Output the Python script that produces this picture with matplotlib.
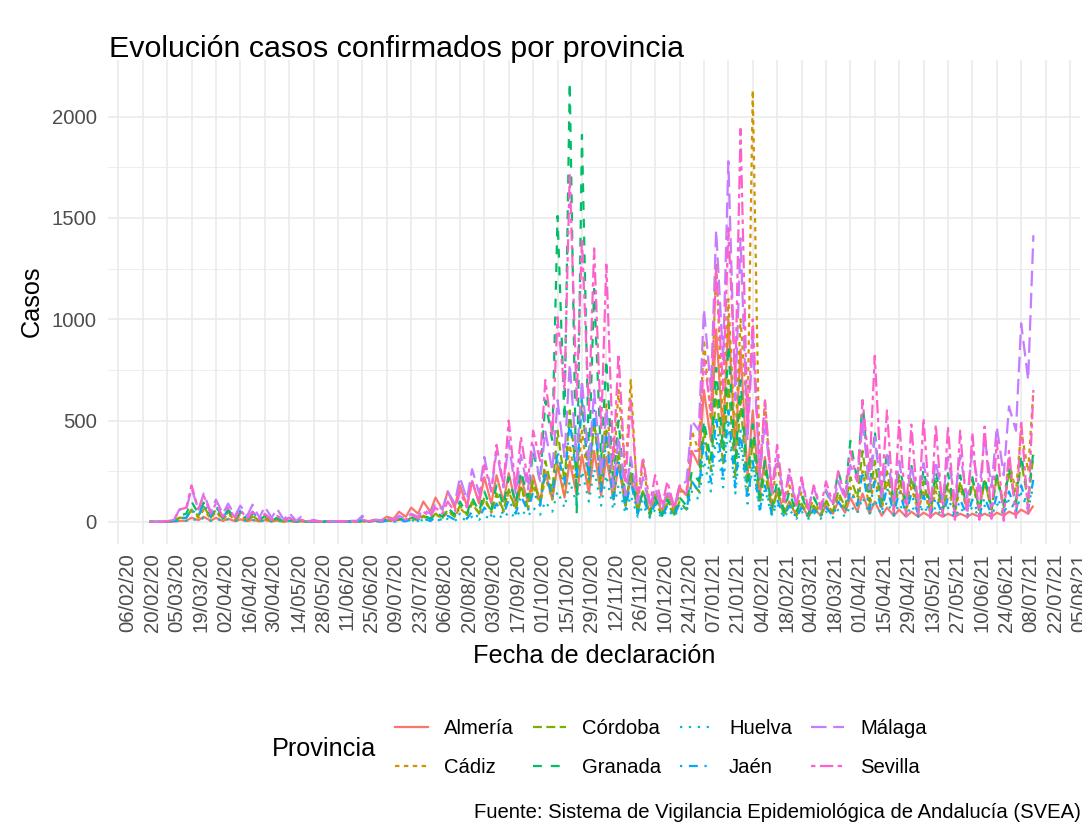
import numpy as np
import pandas as pd
import matplotlib
matplotlib.use("Agg")
import matplotlib.pyplot as plt
import matplotlib.dates as mdates
from matplotlib.lines import Line2D
from matplotlib.ticker import FixedLocator

plt.rcParams['font.family'] = ['Liberation Sans', 'DejaVu Sans']

# ---------------- data ----------------
provinces = ["Almería", "Cádiz", "Córdoba", "Granada", "Huelva", "Jaén", "Málaga", "Sevilla"]
colors = ["#F8766D", "#CD9600", "#7CAE00", "#00BE67", "#00BFC4", "#00A9FF", "#C77CFF", "#FF61CC"]

# two readings per week: Monday (weekly low) and Thursday (weekly high)
week_starts = pd.date_range("2020-02-24", "2021-07-12", freq="7D")

almeria = [0,0, 0,0, 1,5, 5,20, 8,25, 5,20,
           4,15, 3,12, 3,10, 2,8,
           2,6, 1,4, 0,2, 0,1,
           0,1, 0,1, 0,2, 1,5, 3,10,
           8,25, 15,50, 25,70, 40,100,
           50,120, 60,150, 70,180, 80,200, 90,220,
           90,230, 100,240, 90,220, 100,230,
           100,250, 110,280, 120,300, 130,330,
           140,350, 130,320, 110,280, 80,220, 60,150,
           50,130, 50,140, 60,170, 130,350,
           280,650, 400,950, 420,1000, 350,850,
           230,550, 130,320, 60,160, 40,100,
           30,80, 25,70, 30,80, 40,100, 45,120,
           50,140, 40,100, 30,70, 30,60,
           25,50, 25,45, 25,45, 25,40, 25,40,
           25,40, 25,40, 25,45, 30,50,
           35,60, 40,80]

cadiz = [0,0, 0,2, 3,20, 20,55, 20,60, 15,50,
         10,40, 8,30, 6,25, 5,20,
         3,12, 2,8, 1,4, 0,2,
         0,1, 0,1, 0,2, 1,3, 1,4,
         2,6, 3,10, 5,15, 8,25,
         12,35, 18,50, 25,70, 30,90, 40,110,
         45,130, 50,150, 60,170, 60,180,
         80,220, 110,300, 140,380, 160,450,
         180,500, 200,580, 230,650, 250,700, 80,300,
         50,150, 40,130, 45,150, 150,450,
         350,900, 500,1280, 450,1100, 400,1000,
         500,2130, 200,600, 100,300, 60,180,
         50,150, 40,120, 35,110, 40,130, 60,170,
         80,250, 70,220, 60,200, 50,180,
         50,170, 50,160, 40,150, 50,160, 50,170,
         60,180, 60,200, 70,230, 90,300,
         150,450, 250,650]

cordoba = [0,0, 0,1, 3,20, 20,60, 30,75, 20,60,
           15,50, 10,40, 8,30, 5,20,
           3,12, 2,8, 1,4, 0,2,
           0,1, 0,1, 0,2, 1,4, 1,5,
           2,8, 4,15, 6,20, 10,30,
           12,40, 20,60, 25,80, 35,100, 40,120,
           50,140, 55,160, 60,180, 70,200,
           100,300, 150,450, 200,550, 220,600,
           200,500, 160,450, 120,350, 80,250, 50,150,
           30,100, 30,90, 35,100, 60,200,
           150,450, 250,650, 280,700, 220,600,
           150,400, 90,250, 50,150, 30,100,
           30,90, 25,80, 30,100, 50,150, 70,220,
           120,350, 100,300, 80,250, 70,230,
           60,220, 60,200, 50,200, 50,190, 60,200,
           60,210, 50,200, 60,220, 70,250,
           90,300, 100,330]

granada = [0,0, 0,2, 5,30, 40,100, 40,95, 30,80,
           20,60, 15,50, 10,40, 5,30,
           5,20, 3,12, 1,6, 1,3,
           0,2, 0,1, 1,3, 1,5, 2,5,
           3,10, 5,15, 8,25, 10,35,
           15,50, 25,70, 35,100, 40,120, 50,150,
           60,180, 80,220, 90,250, 120,350,
           200,600, 400,1510, 500,2170, 40,1910,
           300,1150, 300,800, 180,500, 100,300, 40,160,
           40,120, 30,110, 40,120, 80,250,
           200,500, 300,760, 350,870, 280,700,
           200,480, 120,300, 70,200, 50,150,
           40,130, 40,120, 50,150, 80,250, 130,400,
           200,600, 150,450, 100,350, 90,300,
           80,280, 70,260, 70,250, 60,240, 60,230,
           60,220, 60,220, 70,230, 80,260,
           100,330, 120,350]

huelva = [0,0, 0,0, 1,5, 5,15, 5,20, 5,15,
          4,12, 3,10, 3,8, 2,6,
          2,5, 1,4, 0,2, 0,1,
          0,1, 0,0, 0,1, 0,2, 1,3,
          1,4, 1,5, 2,8, 3,10,
          4,12, 5,15, 6,20, 8,25, 10,30,
          12,40, 15,50, 20,60, 25,70,
          35,100, 50,150, 70,200, 90,250,
          100,260, 80,230, 60,180, 40,130, 25,80,
          20,60, 20,60, 25,70, 50,150,
          110,300, 150,420, 170,480, 140,400,
          90,280, 50,160, 30,90, 20,60,
          15,50, 15,45, 15,50, 20,60, 25,80,
          40,120, 35,110, 30,100, 30,90,
          25,80, 25,80, 25,75, 20,70, 20,70,
          25,75, 25,80, 30,90, 35,110,
          45,140, 60,180]

jaen = [0,0, 0,1, 2,15, 20,60, 30,90, 25,75,
        20,60, 15,55, 15,50, 10,40,
        8,30, 5,20, 2,10, 1,4,
        0,2, 0,1, 0,2, 2,25, 1,5,
        1,5, 2,8, 3,10, 4,15,
        5,20, 8,30, 10,40, 15,50, 20,70,
        30,90, 35,110, 40,130, 50,150,
        80,250, 120,350, 180,500, 220,620,
        200,550, 150,420, 100,300, 60,200, 40,120,
        25,90, 25,80, 30,90, 60,200,
        150,400, 200,520, 220,550, 170,450,
        110,300, 60,180, 35,110, 25,80,
        20,70, 20,60, 25,70, 30,100, 50,150,
        80,250, 60,200, 50,170, 40,150,
        40,140, 35,130, 30,120, 30,120, 30,110,
        30,110, 30,120, 35,130, 40,150,
        50,180, 60,210]

malaga = [0,0, 0,5, 10,60, 60,165, 60,140, 50,110,
          40,90, 30,80, 30,85, 20,75,
          20,65, 10,45, 5,25, 2,10,
          1,5, 1,3, 2,5, 5,30, 3,10,
          8,20, 10,30, 15,40, 25,60,
          40,90, 60,150, 90,220, 110,260, 140,320,
          150,350, 170,400, 140,330, 160,380,
          200,450, 250,600, 320,780, 300,700,
          280,650, 230,560, 170,420, 130,320, 90,220,
          70,170, 60,160, 70,180, 200,500,
          450,1050, 650,1440, 800,1780, 600,1400,
          400,900, 220,500, 140,330, 100,230,
          80,200, 70,170, 60,160, 80,200, 110,280,
          200,500, 160,420, 120,330, 100,300,
          90,280, 100,290, 100,300, 110,320, 110,330,
          120,350, 150,420, 170,470, 230,570,
          450,980, 700,1415]

sevilla = [0,0, 0,3, 10,60, 70,180, 60,130, 40,90,
           25,70, 20,60, 15,50, 10,40,
           8,30, 5,20, 3,10, 1,5,
           0,3, 0,2, 1,5, 2,10, 2,8,
           4,15, 6,20, 10,35, 15,50,
           25,70, 40,100, 50,150, 70,200, 100,280,
           150,380, 180,500, 160,420, 200,450,
           300,700, 420,1010, 650,1720, 600,1400,
           550,1350, 450,1270, 300,830, 200,600, 120,320,
           90,230, 80,200, 70,180, 130,350,
           350,800, 550,1250, 650,1450, 700,1940,
           450,1000, 250,600, 150,380, 100,260,
           80,220, 60,180, 70,200, 90,250, 120,350,
           200,600, 250,820, 150,550, 50,500,
           30,480, 40,510, 20,480, 30,470, 10,450,
           20,440, 10,470, 15,400, 5,350,
           20,500, 40,650]

series = [almeria, cadiz, cordoba, granada, huelva, jaen, malaga, sevilla]

title = "Evolución casos confirmados por provincia"
xlabel = "Fecha de declaración"
ylabel = "Casos"
legend_title = "Provincia"
caption = "Fuente: Sistema de Vigilancia Epidemiológica de Andalucía (SVEA)"
y_ticks = [0, 500, 1000, 1500, 2000]

# ---------------- styling ----------------
dash_patterns = [None, (2, 2), (4, 2), (4, 4), (1, 3), (1, 3, 4, 3), (7, 3), (2, 2, 6, 2)]
LW = 1.6
W, H = 1082, 834
fig = plt.figure(figsize=(W / 100, H / 100), dpi=100)
fig.patch.set_facecolor("white")

px_left, px_right, px_top, px_bottom = 108, 1080, 60.4, 543.7
ax = fig.add_axes([px_left / W, 1 - px_bottom / H, (px_right - px_left) / W, (px_bottom - px_top) / H])

dates = np.array([d + pd.Timedelta(days=k) for d in week_starts for k in (0, 3)])
xnum = mdates.date2num(pd.DatetimeIndex(dates).to_pydatetime())

handles = []
for name, vals, col, dsh in zip(provinces, series, colors, dash_patterns):
    ls = "-" if dsh is None else (0, dsh)
    ax.plot(xnum, vals, color=col, lw=LW, linestyle=ls, solid_capstyle="butt")
    handles.append(Line2D([], [], color=col, lw=LW, linestyle=ls))

base = mdates.date2num(pd.Timestamp("2020-02-06").to_pydatetime())
px_per_day = 1.743
left_lim = base - (118.3 - px_left) / px_per_day
right_lim = left_lim + (px_right - px_left) / px_per_day
ax.set_xlim(left_lim, right_lim)
ax.set_ylim(-108, 2278)

tick_dates = pd.date_range("2020-02-06", "2021-08-05", freq="14D")
ax.xaxis.set_major_locator(FixedLocator(mdates.date2num(tick_dates.to_pydatetime())))
ax.xaxis.set_major_formatter(mdates.DateFormatter("%d/%m/%y"))
ax.set_yticks(y_ticks)
ax.set_yticks([250, 750, 1250, 1750], minor=True)

for s in ax.spines.values():
    s.set_visible(False)
ax.set_axisbelow(True)
ax.grid(which="major", color="#EBEBEB", lw=1.2)
ax.grid(which="minor", axis="y", color="#EBEBEB", lw=0.6)
ax.tick_params(axis="x", which="both", length=0, pad=6.7, labelsize=14.6, labelcolor="#4D4D4D")
ax.tick_params(axis="y", which="both", length=0, pad=8.0, labelsize=14.6, labelcolor="#4D4D4D")
for lab in ax.get_xticklabels():
    lab.set_rotation(90)
    lab.set_ha("left")
    lab.set_va("top")

fig.text(109 / W, 1 - 57 / H, title, fontsize=21.9, ha="left", va="baseline", color="black")
fig.text(32 / W, 1 - 301 / H, ylabel, fontsize=18.2, rotation=90, ha="center", va="center")
fig.text(594 / W, 1 - 663 / H, xlabel, fontsize=18.2, ha="center", va="baseline")
fig.text(272 / W, 1 - 756 / H, legend_title, fontsize=18.2, ha="left", va="baseline")
fig.legend(handles, provinces, loc="center left", bbox_to_anchor=(395 / W, 1 - 748 / H),
           ncol=4, frameon=False, fontsize=14.6, handlelength=1.63, handletextpad=0.78,
           columnspacing=0.95, labelspacing=0.95, borderpad=0, borderaxespad=0)
fig.text(1081 / W, 1 - 818 / H, caption, fontsize=14.6, ha="right", va="baseline")

fig.savefig("out.png", dpi=100)
